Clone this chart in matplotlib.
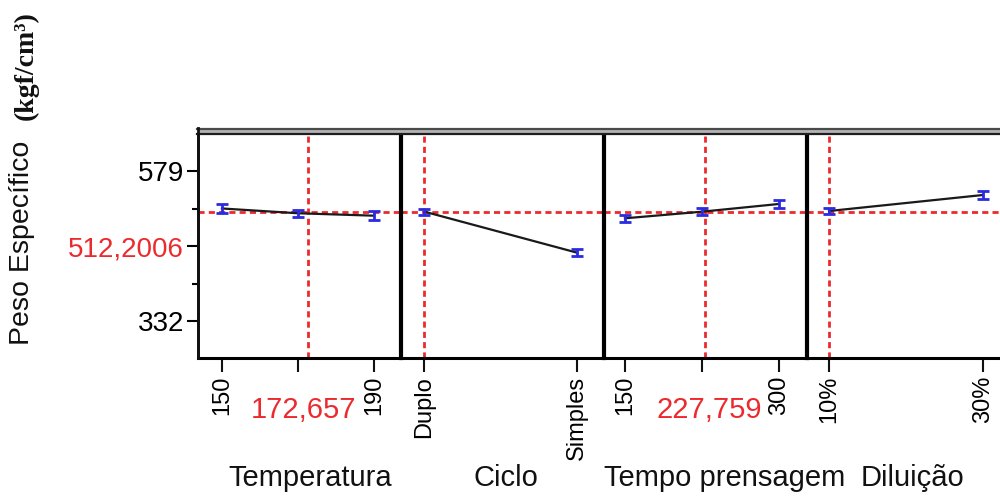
import matplotlib
matplotlib.use("Agg")
import matplotlib.pyplot as plt
from matplotlib import font_manager
from matplotlib.lines import Line2D
from matplotlib.patches import Rectangle

# ---- data -------------------------------------------------------------
temp_levels = [150, 170, 190]
temp_means = [518.0, 510.1, 506.1]
temp_err = [7.0, 6.0, 7.0]
temp_ticklabels = ["150", "", "190"]
temp_current = 172.657

ciclo_levels = ["Duplo", "Simples"]
ciclo_means = [512.7, 445.2]
ciclo_err = [5.0, 6.0]

tempo_levels = [150, 225, 300]
tempo_means = [501.8, 512.7, 525.4]
tempo_err = [6.0, 5.5, 7.0]
tempo_ticklabels = ["150", "", "300"]
tempo_current = 227.759

dil_levels = [10, 30]
dil_ticklabels = ["10%", "30%"]
dil_means = [513.8, 540.2]
dil_err = [5.5, 6.0]

factor_names = ["Temperatura", "Ciclo", "Tempo prensagem", "Diluição"]
y_current = 512.2006
y_ticks = [332, 455.5, 579]
y_ticklabels = ["332", "512,2006", "579"]
y_minor = [393.75, 517.25]

# ---- style --------------------------------------------------------------
RED = "#ec2a2e"
BLUE = "#2b2bdf"
names = {f.name for f in font_manager.fontManager.ttflist}
if "Liberation Sans Narrow" in names:
    NARROW, nscale = "Liberation Sans Narrow", 1.2
else:
    NARROW, nscale = "Liberation Sans", 1.0
SANS = "Liberation Sans"

W, H = 1000, 499
fig = plt.figure(figsize=(10, 4.99), dpi=100)

top_px, bot_px = 135, 358
panel_x = [198, 401, 604, 807]
panel_w = 203


def frac_rect(x0, y_top, w, y_bot):
    return [x0 / W, (H - y_bot) / H, w / W, (y_bot - y_top) / H]


axes = [fig.add_axes(frac_rect(x, top_px, panel_w, bot_px)) for x in panel_x]

xlims = [(143.7, 197.1), (-0.154, 1.177), (129.6, 327.3), (7.14, 33.5)]
ylim = (271.7, 639.0)

panels = [
    (temp_levels, temp_means, temp_err, temp_levels, temp_ticklabels, temp_current),
    ([0, 1], ciclo_means, ciclo_err, [0, 1], ciclo_levels, 0),
    (tempo_levels, tempo_means, tempo_err, tempo_levels, tempo_ticklabels, tempo_current),
    (dil_levels, dil_means, dil_err, dil_levels, dil_ticklabels, dil_levels[0]),
]

dash = (0, (2.2, 1.5))
for i, (ax, (xs, ys, es, ticks, tlabels, cur)) in enumerate(zip(axes, panels)):
    ax.set_xlim(*xlims[i])
    ax.set_ylim(*ylim)
    ax.axhline(y_current, color=RED, lw=2, linestyle=dash, zorder=1)
    ax.axvline(cur, color=RED, lw=2, linestyle=dash, zorder=1)
    ax.plot(xs, ys, color="#1a1a1a", lw=1.6, zorder=2)
    ax.errorbar(xs, ys, yerr=es, fmt="none", ecolor=BLUE, elinewidth=2.0,
                capsize=4, capthick=2.0, zorder=3)

    ax.set_xticks(ticks)
    ax.set_xticklabels(tlabels, rotation=90, fontfamily=NARROW,
                       fontsize=17 * nscale, va="top")
    ax.tick_params(axis="x", length=10, width=1.5, pad=3, color="#111111")

    for side in ("top", "right"):
        ax.spines[side].set_visible(False)
    ax.spines["bottom"].set_linewidth(2.2)
    ax.spines["left"].set_linewidth(2.0 if i == 0 else 3.0)
    ax.set_facecolor("white")

    if i == 0:
        ax.set_yticks(y_ticks)
        ax.set_yticklabels(y_ticklabels, fontfamily=SANS, fontsize=20)
        ax.set_yticks(y_minor, minor=True)
        ax.tick_params(axis="y", which="major", length=8, width=1.5, pad=2)
        ax.tick_params(axis="y", which="minor", length=4.5, width=1.5)
        ax.get_yticklabels()[1].set_color(RED)
    else:
        ax.set_yticks([])
        ax.tick_params(axis="y", which="both", length=0)

# current values of the continuous factors, written under their panels
for ax, val in ((axes[0], temp_current), (axes[2], tempo_current)):
    ax.text(0.52, -0.233, f"{val:.3f}".replace(".", ","), transform=ax.transAxes,
            color=RED, fontfamily=NARROW, fontsize=21 * nscale,
            ha="center", va="center")

# factor names
label_x = [0.552, 0.517, 0.596, 0.522]
for ax, name, lx in zip(axes, factor_names, label_x):
    ax.text(lx, -0.538, name, transform=ax.transAxes, fontfamily=NARROW,
            fontsize=21 * nscale, ha="center", va="center", color="#111111")

# header band across the top of the panels
band_top, band_bot = 128, 135
fig.add_artist(Rectangle((198 / W, (H - band_bot) / H), 1.0, (band_bot - band_top) / H,
                         transform=fig.transFigure, facecolor="#b4b4b4",
                         edgecolor="none", zorder=5))
for ypx, c in ((129, "#4a4a4a"), (134, "#1e1e1e")):
    fig.add_artist(Line2D([197 / W, 1.0], [(H - ypx) / H] * 2, color=c, lw=1.6,
                          transform=fig.transFigure, zorder=6))
fig.add_artist(Line2D([198 / W] * 2, [(H - bot_px) / H, (H - band_top) / H],
                      color="#111111", lw=2.0, transform=fig.transFigure, zorder=6))

# y-axis title
fig.text(0.022, (H - 243) / H, "Peso Específico", rotation=90, fontfamily=SANS,
         fontsize=20.5, ha="center", va="center", color="#111111")
fig.text(0.026, (H - 66) / H, "(kgf/cm³)", rotation=90, fontfamily="Liberation Serif",
         fontweight="bold", fontsize=20, ha="center", va="center", color="#111111")

fig.savefig("out.png", dpi=100, facecolor="white")
